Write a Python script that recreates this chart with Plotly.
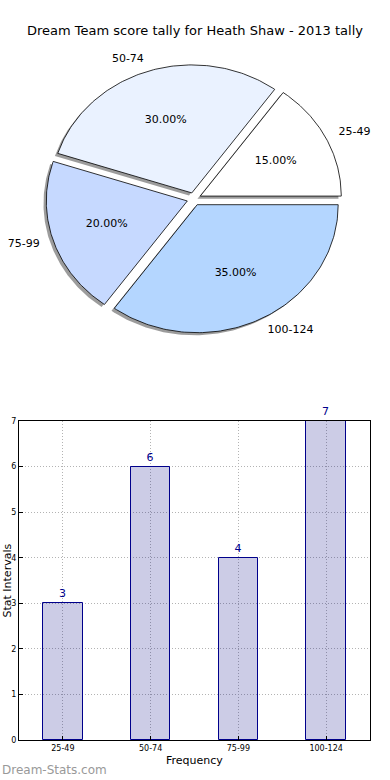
import numpy as np
import plotly.graph_objects as go

# ---- data ----
categories = ["25-49", "50-74", "75-99", "100-124"]
counts = [3, 6, 4, 7]
pie_colors = ["#FFFFFF", "#EAF2FF", "#C6D9FF", "#B4D6FF"]
title_text = "Dream Team score tally for Heath Shaw - 2013 tally"
x_title = "Frequency"
y_title = "Stat Intervals"
y_ticks = [0, 1, 2, 3, 4, 5, 6, 7]

FONT = "DejaVu Sans"
W, H = 390, 780

fig = go.Figure()

# ---- pie drawn as exploded elliptical wedges (matplotlib style) ----
total = float(sum(counts))
fracs = [c / total for c in counts]
explode = 0.05
shadow_off = 0.02
start = 0.0
wedges = []
for lab, f, col in zip(categories, fracs, pie_colors):
    t1 = start
    t2 = start + f * 360.0
    mid = np.deg2rad((t1 + t2) / 2)
    cx, cy = explode * np.cos(mid), explode * np.sin(mid)
    ang = np.deg2rad(np.linspace(t1, t2, 120))
    xs = np.concatenate([[cx], cx + np.cos(ang), [cx]])
    ys = np.concatenate([[cy], cy + np.sin(ang), [cy]])
    wedges.append((lab, f, col, xs, ys, cx, cy, mid))
    start = t2

# shadows
for lab, f, col, xs, ys, cx, cy, mid in wedges:
    fig.add_trace(go.Scatter(x=xs - shadow_off, y=ys - shadow_off, mode="lines",
                             fill="toself", fillcolor="rgba(90,90,90,0.6)",
                             line=dict(width=0, color="rgba(0,0,0,0)"),
                             hoverinfo="skip", showlegend=False,
                             xaxis="x2", yaxis="y2"))
# wedges
for lab, f, col, xs, ys, cx, cy, mid in wedges:
    fig.add_trace(go.Scatter(x=xs, y=ys, mode="lines", fill="toself",
                             fillcolor=col, line=dict(width=0.8, color="black"),
                             hoverinfo="skip", showlegend=False,
                             xaxis="x2", yaxis="y2"))
# labels
for lab, f, col, xs, ys, cx, cy, mid in wedges:
    lx = cx + 1.1 * np.cos(mid)
    ly = cy + 1.1 * np.sin(mid)
    pos = "middle right" if np.cos(mid) > 0 else "middle left"
    fig.add_trace(go.Scatter(x=[lx], y=[ly], mode="text", text=[lab],
                             textposition=pos,
                             textfont=dict(family=FONT, size=11, color="black"),
                             hoverinfo="skip", showlegend=False,
                             xaxis="x2", yaxis="y2"))
    px_ = cx + 0.6 * np.cos(mid)
    py_ = cy + 0.6 * np.sin(mid)
    fig.add_trace(go.Scatter(x=[px_], y=[py_], mode="text",
                             text=["%.2f%%" % (f * 100)],
                             textposition="middle center",
                             textfont=dict(family=FONT, size=11, color="black"),
                             hoverinfo="skip", showlegend=False,
                             xaxis="x2", yaxis="y2"))

# ---- bar chart ----
fig.add_trace(go.Bar(x=list(range(len(categories))), y=counts, width=0.45,
                     marker=dict(color="rgba(0,0,128,0.2)",
                                 line=dict(color="#00008B", width=1)),
                     text=[str(c) for c in counts], textposition="outside",
                     textfont=dict(family=FONT, size=11, color="#00008B"),
                     cliponaxis=False, hoverinfo="skip", showlegend=False,
                     xaxis="x", yaxis="y"))

# pie axes geometry (pixel based)
pcx, pcy, rx, ry = 194, 199, 141, 128
pie_bottom_px = 380

grid_style = dict(showgrid=True, gridcolor="#b3b3b3", griddash="1px,2px",
                  gridwidth=1)

fig.update_layout(
    width=W, height=H,
    margin=dict(l=0, r=0, t=0, b=0, autoexpand=False),
    paper_bgcolor="white", plot_bgcolor="white",
    font=dict(family=FONT, color="black"),
    bargap=0,
    title=dict(text=title_text, x=0.5, xanchor="center",
               y=1 - 30 / H, yanchor="middle",
               font=dict(family=FONT, size=13, color="black")),
    xaxis=dict(domain=[19 / W, 370 / W], range=[-0.5, 3.5], automargin=False,
               tickmode="array", tickvals=list(range(len(categories))),
               ticktext=categories, tickfont=dict(size=8, family=FONT),
               showline=True, linecolor="black", linewidth=1, mirror=True,
               ticks="inside", ticklen=4, tickcolor="black",
               zeroline=False, fixedrange=True, **grid_style),
    yaxis=dict(domain=[1 - 740 / H, 1 - 421 / H], range=[0, 7], automargin=False,
               tickmode="array", tickvals=y_ticks,
               tickfont=dict(size=8, family=FONT),
               showline=True, linecolor="black", linewidth=1, mirror=True,
               ticks="inside", ticklen=4, tickcolor="black",
               zeroline=False, fixedrange=True, **grid_style),
    xaxis2=dict(domain=[0, 1], anchor="y2", automargin=False,
                range=[-pcx / rx, (W - pcx) / rx],
                visible=False, fixedrange=True),
    yaxis2=dict(domain=[1 - pie_bottom_px / H, 1], anchor="x2", automargin=False,
                range=[(pcy - pie_bottom_px) / ry, pcy / ry],
                visible=False, fixedrange=True),
)

# axis titles
fig.add_annotation(text=x_title, xref="paper", yref="paper",
                   x=(19 + 370) / 2 / W, y=1 - 760 / H,
                   xanchor="center", yanchor="middle", showarrow=False,
                   font=dict(family=FONT, size=11, color="black"))
fig.add_annotation(text=y_title, xref="paper", yref="paper",
                   x=6.5 / W, y=1 - 581 / H, textangle=-90,
                   xanchor="center", yanchor="middle", showarrow=False,
                   font=dict(family=FONT, size=11, color="black"))

fig.add_annotation(text="Dream-Stats.com", xref="paper", yref="paper",
                   x=0, y=1 - 770 / H, xanchor="left", yanchor="middle",
                   showarrow=False,
                   font=dict(family=FONT, size=12, color="#999999"))

fig.write_html("out.html", config={"displayModeBar": False},
               post_script="document.body.style.margin='0';document.body.style.overflow='hidden';")
